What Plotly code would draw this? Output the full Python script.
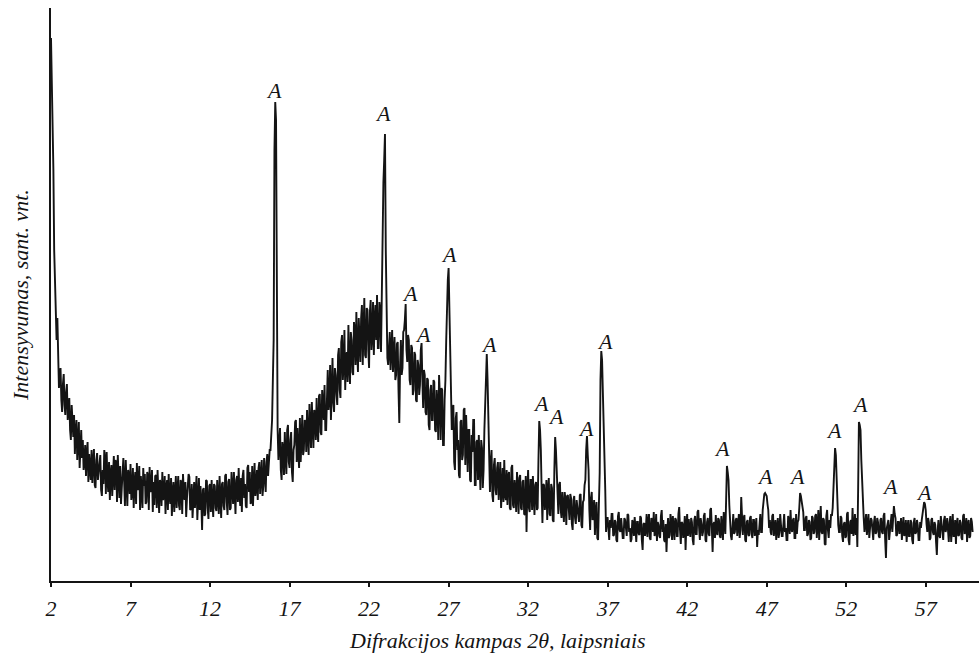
import numpy as np
import plotly.graph_objects as go

# 2θ angles (degrees), step 0.05 from 2.00 to 59.95
angle_start = 2.0
angle_step = 0.05

# Intensity (arbitrary units), one row per degree (x.00, x.05, ... x.95)
intensity_rows = [
    [542, 500, 440, 410, 330, 300, 252, 240, 262, 215, 192, 205, 212, 180, 168, 196, 206, 175, 165, 188],  # 2
    [196, 160, 170, 182, 150, 140, 175, 155, 143, 165, 126, 148, 160, 120, 138, 158, 112, 135, 150, 122],  # 3
    [140, 110, 118, 135, 104, 126, 138, 98, 126, 112, 100, 130, 97, 118, 131, 95, 92, 120, 127, 100],      # 4
    [108, 122, 125, 90, 84, 110, 96, 130, 121, 86, 128, 100, 88, 118, 80, 106, 115, 84, 102, 124],         # 5
    [90, 120, 118, 78, 125, 96, 82, 114, 76, 92, 112, 122, 98, 74, 120, 102, 74, 110, 105, 86],            # 6
    [116, 80, 88, 112, 72, 98, 108, 76, 117, 90, 95, 114, 70, 104, 82, 72, 112, 94, 106, 76],              # 7
    [78, 108, 104, 70, 113, 88, 90, 110, 68, 98, 75, 104, 105, 72, 110, 86, 67, 100, 96, 74],              # 8
    [108, 80, 85, 104, 66, 92, 100, 70, 106, 84, 76, 102, 64, 88, 98, 68, 92, 104, 72, 96],                # 9
    [104, 74, 70, 100, 97, 66, 106, 88, 80, 98, 63, 82, 95, 106, 103, 70, 71, 96, 62, 90],                 # 10
    [98, 72, 88, 104, 60, 86, 102, 70, 94, 78, 50, 90, 92, 64, 66, 100, 99, 72, 61, 94],                   # 11
    [96, 68, 100, 78, 63, 96, 94, 72, 69, 100, 82, 66, 104, 88, 62, 96, 98, 74, 70, 104],                  # 12
    [106, 78, 65, 98, 101, 70, 72, 108, 90, 76, 108, 82, 66, 100, 104, 78, 112, 86, 74, 102],              # 13
    [68, 104, 110, 82, 96, 74, 72, 112, 115, 88, 108, 76, 78, 114, 74, 96, 117, 84, 92, 110],              # 14
    [80, 112, 118, 86, 112, 120, 84, 94, 122, 98, 88, 118, 126, 104, 118, 130, 130, 150, 160, 200],        # 15
    [240, 430, 478, 460, 245, 150, 120, 140, 152, 110, 100, 138, 130, 105, 148, 122, 106, 150, 155, 118],  # 16
    [112, 140, 148, 108, 98, 130, 135, 158, 160, 118, 152, 128, 112, 162, 118, 140, 165, 125, 130, 160],   # 17
    [158, 128, 170, 145, 125, 176, 150, 132, 178, 160, 132, 170, 168, 140, 182, 150, 138, 184, 186, 148],  # 18
    [145, 190, 175, 160, 195, 150, 150, 200, 210, 170, 180, 215, 160, 185, 222, 178, 168, 212, 205, 185],  # 19
    [175, 225, 232, 190, 182, 238, 245, 200, 215, 250, 190, 222, 228, 198, 255, 215, 196, 248, 240, 208],  # 20
    [205, 258, 250, 215, 268, 230, 208, 262, 240, 218, 262, 275, 215, 240, 282, 225, 222, 272, 270, 230],  # 21
    [212, 268, 280, 230, 245, 278, 225, 260, 275, 240, 285, 232, 232, 278, 270, 228, 300, 310, 397, 420],  # 22
    [446, 330, 250, 222, 215, 245, 248, 210, 228, 250, 208, 232, 243, 200, 205, 236, 238, 190, 157, 215],  # 23
    [240, 205, 212, 248, 250, 260, 276, 230, 218, 245, 240, 200, 195, 235, 232, 185, 190, 228, 225, 180],  # 24
    [178, 220, 215, 185, 195, 230, 237, 200, 172, 210, 205, 168, 165, 202, 200, 155, 150, 190, 195, 160],  # 25
    [160, 200, 198, 150, 148, 190, 175, 140, 205, 185, 140, 192, 190, 135, 135, 180, 200, 240, 278, 300],  # 26
    [312, 260, 227, 170, 150, 170, 175, 118, 110, 162, 168, 130, 140, 105, 102, 158, 160, 120, 125, 170],  # 27
    [172, 115, 165, 140, 108, 150, 150, 100, 98, 145, 128, 160, 160, 95, 95, 138, 140, 100, 145, 115],     # 28
    [90, 140, 132, 92, 110, 150, 187, 210, 226, 200, 170, 120, 88, 118, 130, 85, 78, 115, 122, 90],        # 29
    [85, 112, 118, 80, 100, 118, 72, 95, 112, 78, 120, 86, 80, 110, 75, 104, 108, 72, 70, 112],            # 30
    [115, 75, 72, 100, 90, 68, 108, 92, 66, 102, 105, 72, 70, 98, 100, 66, 65, 104, 48, 90],               # 31
    [110, 72, 68, 100, 100, 70, 104, 84, 65, 95, 98, 70, 72, 120, 159, 150, 130, 90, 57, 96],              # 32
    [95, 70, 80, 100, 60, 90, 102, 66, 64, 96, 92, 60, 58, 110, 143, 130, 110, 75, 66, 95],                # 33
    [98, 70, 62, 88, 75, 58, 88, 80, 55, 84, 85, 62, 60, 86, 82, 56, 50, 80, 84, 62],                      # 34
    [56, 80, 72, 60, 58, 85, 86, 55, 52, 78, 80, 95, 100, 130, 144, 125, 110, 70, 50, 82],                 # 35
    [88, 60, 65, 80, 45, 70, 78, 42, 40, 75, 107, 200, 229, 220, 190, 165, 142, 90, 48, 62],               # 36
    [62, 45, 40, 60, 52, 66, 66, 44, 45, 60, 58, 40, 38, 64, 68, 50, 48, 62, 55, 42],                      # 37
    [42, 62, 60, 46, 44, 66, 65, 48, 52, 38, 41, 60, 56, 44, 63, 52, 38, 58, 58, 46],                      # 38
    [45, 64, 62, 40, 30, 56, 57, 44, 50, 66, 43, 58, 66, 42, 40, 62, 60, 48, 68, 44],                      # 39
    [47, 66, 39, 58, 55, 44, 42, 64, 70, 48, 60, 40, 38, 56, 28, 50, 62, 42, 45, 66],                      # 40
    [58, 40, 64, 52, 40, 62, 60, 44, 44, 66, 73, 50, 36, 58, 57, 42, 48, 64, 30, 55],                      # 41
    [66, 44, 61, 50, 43, 62, 58, 40, 35, 60, 64, 46, 46, 68, 70, 52, 40, 62, 56, 44],                      # 42
    [48, 64, 67, 40, 38, 58, 62, 46, 44, 70, 72, 52, 28, 56, 58, 42, 65, 48, 45, 62],                      # 43
    [60, 44, 42, 64, 55, 40, 68, 50, 46, 80, 114, 108, 100, 75, 58, 44, 40, 60, 66, 46],                   # 44
    [48, 60, 62, 44, 55, 66, 42, 50, 83, 56, 45, 62, 65, 40, 38, 58, 60, 45, 44, 62],                      # 45
    [64, 46, 42, 60, 60, 44, 52, 62, 33, 50, 45, 64, 66, 48, 48, 70, 80, 86, 87, 86],                      # 46
    [84, 76, 70, 52, 60, 48, 45, 64, 66, 44, 52, 60, 40, 55, 62, 42, 48, 66, 58, 44],                      # 47
    [44, 62, 66, 48, 52, 40, 40, 64, 58, 46, 70, 52, 48, 60, 62, 42, 42, 66, 46, 58],                      # 48
    [60, 72, 87, 84, 78, 70, 68, 50, 50, 62, 64, 44, 46, 60, 58, 40, 42, 64, 62, 46],                      # 49
    [48, 64, 66, 42, 55, 70, 40, 58, 74, 48, 46, 62, 60, 36, 35, 64, 70, 50, 42, 60],                      # 50
    [52, 66, 64, 72, 93, 110, 132, 125, 95, 70, 55, 48, 48, 64, 62, 44, 38, 56, 58, 42],                   # 51
    [44, 66, 68, 40, 35, 58, 60, 46, 72, 44, 50, 66, 45, 62, 33, 90, 158, 155, 150, 120],                  # 52
    [92, 75, 62, 48, 55, 66, 45, 60, 66, 42, 50, 62, 60, 44, 40, 58, 64, 46, 48, 62],                      # 53
    [58, 44, 42, 60, 62, 48, 46, 64, 67, 40, 22, 52, 55, 60, 40, 48, 60, 66, 48, 70],                      # 54
    [74, 66, 62, 44, 45, 58, 58, 46, 52, 62, 40, 54, 63, 44, 46, 60, 38, 52, 60, 44],                      # 55
    [44, 60, 57, 40, 36, 58, 62, 46, 48, 60, 55, 40, 40, 58, 52, 60, 66, 72, 78, 76],                      # 56
    [70, 56, 48, 62, 58, 40, 42, 60, 62, 48, 45, 58, 55, 38, 25, 50, 60, 44, 42, 64],                      # 57
    [56, 42, 40, 60, 64, 48, 52, 62, 46, 38, 58, 64, 38, 50, 66, 44, 44, 60, 36, 56],                      # 58
    [62, 44, 45, 60, 57, 42, 40, 64, 66, 46, 50, 62, 38, 56, 60, 42, 44, 62, 58, 48],                      # 59
]

bad = [i + 2 for i, r in enumerate(intensity_rows) if len(r) != 20]
if bad:
    raise ValueError(f"rows with wrong length: {bad}")

intensity = [v for row in intensity_rows for v in row]
angles = np.round(angle_start + angle_step * np.arange(len(intensity)), 3)

# Peak marker labels ("A") - label centre positions (angle, intensity level)
label_angles = [15.99, 22.87, 24.55, 25.38, 27.02, 29.52, 32.83, 33.77, 35.66,
                36.81, 44.19, 46.87, 48.91, 51.21, 52.89, 54.78, 56.89]
label_levels = [490, 467, 287, 246, 326, 236, 177, 164, 152,
                239, 132, 104, 104, 150, 176, 94, 88]
label_text = "A"

x_ticks = [2, 7, 12, 17, 22, 27, 32, 37, 42, 47, 52, 57]

x_title = "Difrakcijos kampas 2θ, laipsniais"
y_title = "Intensyvumas, sant. vnt."

FONT = "Liberation Serif, Times New Roman, Times, serif"
INK = "#141414"

fig = go.Figure()
fig.add_trace(go.Scatter(
    x=angles, y=intensity, mode="lines",
    line=dict(color=INK, width=1.9),
    hoverinfo="skip", showlegend=False,
))

annotations = []
for ax_, ay_ in zip(label_angles, label_levels):
    annotations.append(dict(
        x=ax_, y=ay_, xref="x", yref="y", text=f"<i>{label_text}</i>",
        showarrow=False, xanchor="center", yanchor="middle",
        font=dict(family=FONT, size=22, color=INK),
    ))

W, H = 979, 659
ML, MR, MT, MB = 51, 0, 8, 78
pw = W - ML - MR
ph = H - MT - MB

annotations.append(dict(
    x=(497 - ML) / pw, y=(H - 641 - MB) / ph, xref="paper", yref="paper",
    text=f"<i>{x_title}</i>", showarrow=False, xanchor="center", yanchor="middle",
    font=dict(family=FONT, size=22, color=INK),
))
annotations.append(dict(
    x=(20 - ML) / pw, y=(H - 295 - MB) / ph, xref="paper", yref="paper",
    text=f"<i>{y_title}</i>", showarrow=False, xanchor="center", yanchor="middle",
    textangle=-90, font=dict(family=FONT, size=22, color=INK),
))

fig.update_layout(
    width=W, height=H,
    margin=dict(l=ML, r=MR, t=MT, b=MB),
    paper_bgcolor="white", plot_bgcolor="white",
    showlegend=False,
    annotations=annotations,
    xaxis=dict(
        range=[2, 60.35], tickmode="array", tickvals=x_ticks,
        ticktext=[f"<i>{t}</i>" for t in x_ticks],
        showgrid=False, zeroline=False,
        showline=True, linecolor=INK, linewidth=2,
        ticks="outside", ticklen=4, tickwidth=2, tickcolor=INK,
        ticklabelstandoff=3,
        tickfont=dict(family=FONT, size=22, color=INK),
    ),
    yaxis=dict(
        range=[-1, 572], showticklabels=False, ticks="",
        showgrid=False, zeroline=False,
        showline=True, linecolor=INK, linewidth=2,
    ),
)

fig.write_html("out.html")
